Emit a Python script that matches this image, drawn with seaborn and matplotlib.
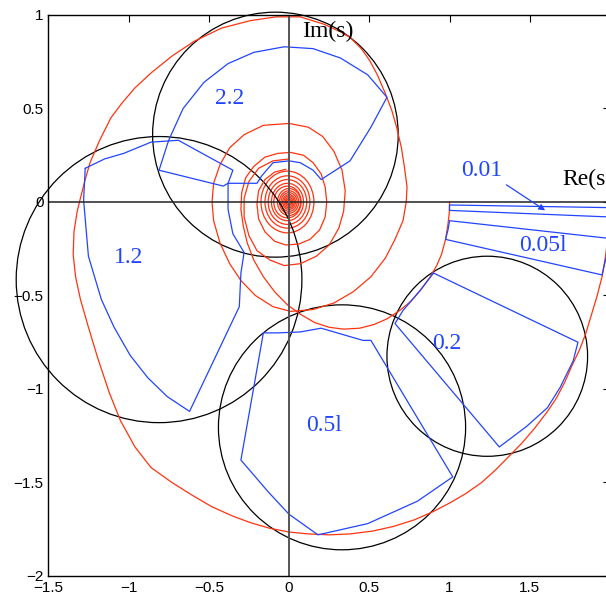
import numpy as np
import pandas as pd
import seaborn as sns
import matplotlib.pyplot as plt
from matplotlib.patches import Ellipse

RED = '#ff3311'
BLUE = '#2244ff'

# red locus, outer spiral (starts at Re=2)
red_outer = [
    (2.00, 0.00), (1.995, -0.10), (1.985, -0.20), (1.97, -0.30), (1.95, -0.40),
    (1.92, -0.50), (1.885, -0.60), (1.85, -0.70), (1.81, -0.79), (1.76, -0.88),
    (1.72, -0.96), (1.665, -1.05), (1.61, -1.12), (1.53, -1.21), (1.45, -1.29),
    (1.37, -1.36), (1.29, -1.43), (1.20, -1.50), (1.10, -1.56), (1.00, -1.61),
    (0.90, -1.655), (0.78, -1.70), (0.65, -1.735), (0.52, -1.76), (0.38, -1.775),
    (0.25, -1.78), (0.12, -1.775), (0.00, -1.765), (-0.12, -1.745), (-0.24, -1.715),
    (-0.35, -1.68), (-0.48, -1.63), (-0.60, -1.57), (-0.73, -1.50), (-0.86, -1.42),
    (-0.96, -1.31), (-1.05, -1.17), (-1.12, -1.02), (-1.19, -0.84), (-1.25, -0.67),
    (-1.30, -0.52), (-1.33, -0.40), (-1.345, -0.28), (-1.34, -0.16), (-1.32, -0.05),
    (-1.30, 0.02), (-1.27, 0.12), (-1.24, 0.21), (-1.18, 0.33), (-1.11, 0.45),
    (-1.04, 0.53), (-0.96, 0.61), (-0.86, 0.69), (-0.73, 0.78), (-0.59, 0.86),
    (-0.42, 0.93), (-0.24, 0.97), (-0.08, 0.99), (0.07, 0.99), (0.22, 0.95),
    (0.32, 0.91), (0.38, 0.88), (0.45, 0.82), (0.50, 0.76), (0.55, 0.68),
    (0.60, 0.58), (0.64, 0.49), (0.67, 0.40), (0.70, 0.29), (0.72, 0.18),
    (0.735, 0.08), (0.73, 0.00), (0.71, -0.10), (0.66, -0.20), (0.60, -0.30),
    (0.51, -0.40), (0.40, -0.48), (0.28, -0.54), (0.15, -0.575), (0.01, -0.585),
    (-0.10, -0.56), (-0.21, -0.50), (-0.30, -0.42), (-0.37, -0.33), (-0.43, -0.22),
    (-0.47, -0.10), (-0.48, 0.00), (-0.47, 0.10), (-0.43, 0.20), (-0.37, 0.29),
    (-0.28, 0.36), (-0.16, 0.41), (0.00, 0.42), (0.12, 0.40), (0.21, 0.35),
    (0.28, 0.27), (0.33, 0.17), (0.35, 0.06), (0.34, -0.05), (0.31, -0.14),
    (0.25, -0.23), (0.17, -0.29), (0.07, -0.33), (-0.03, -0.34), (-0.12, -0.31),
    (-0.20, -0.26), (-0.25, -0.18), (-0.28, -0.08), (-0.28, 0.02), (-0.25, 0.11),
    (-0.19, 0.18), (-0.10, 0.22), (0.00, 0.23),
]

# red locus, inner spiral (starts at Re=1)
red_inner = [
    (1.00, 0.00), (0.998, -0.06), (0.99, -0.12), (0.975, -0.20), (0.95, -0.28),
    (0.92, -0.34), (0.88, -0.40), (0.82, -0.47), (0.76, -0.53), (0.69, -0.58),
    (0.61, -0.625), (0.53, -0.655), (0.44, -0.675), (0.34, -0.68), (0.25, -0.67),
    (0.16, -0.645), (0.07, -0.60), (-0.01, -0.55), (-0.09, -0.48), (-0.16, -0.40),
    (-0.22, -0.31), (-0.26, -0.22), (-0.285, -0.13), (-0.30, -0.04), (-0.295, 0.05),
    (-0.27, 0.13), (-0.22, 0.19), (-0.15, 0.24), (-0.07, 0.26), (0.01, 0.265),
    (0.09, 0.25), (0.15, 0.21), (0.20, 0.15), (0.225, 0.08), (0.235, 0.00),
    (0.225, -0.08), (0.19, -0.15), (0.13, -0.20), (0.06, -0.225), (-0.02, -0.23),
    (-0.09, -0.21), (-0.15, -0.16), (-0.19, -0.09), (-0.20, -0.01), (-0.19, 0.06),
    (-0.15, 0.12), (-0.09, 0.16), (-0.02, 0.175),
]

# tight rings near the origin: centre x, centre y, radius
red_rings = [
    (-0.01, 0.00, 0.165), (-0.01, 0.00, 0.14), (-0.01, 0.00, 0.12),
    (-0.01, 0.00, 0.10), (-0.01, 0.00, 0.085), (0.00, 0.00, 0.072),
    (0.00, 0.00, 0.06), (0.00, 0.00, 0.05), (0.00, 0.00, 0.04),
    (0.00, 0.00, 0.032), (0.00, 0.00, 0.024), (0.00, 0.00, 0.017),
    (0.00, 0.00, 0.01),
]

# black circles: centre x, centre y, x radius, y radius
circles = [
    (-0.085, 0.36, 0.765, 0.655),
    (-0.81, -0.415, 0.89, 0.765),
    (0.33, -1.205, 0.77, 0.655),
    (1.235, -0.825, 0.625, 0.535),
]

# blue regions
reg_22 = [
    (-0.81, 0.17), (-0.75, 0.33), (-0.66, 0.50), (-0.53, 0.64), (-0.38, 0.74),
    (-0.22, 0.80), (-0.03, 0.83), (0.15, 0.82), (0.32, 0.77), (0.49, 0.68),
    (0.61, 0.56), (0.51, 0.40), (0.38, 0.22), (0.20, 0.12), (0.15, 0.17),
    (0.07, 0.21), (0.00, 0.22), (-0.10, 0.21), (-0.17, 0.14), (-0.20, 0.10),
    (-0.38, 0.10), (-0.41, 0.085), (-0.81, 0.17),
]
reg_12 = [
    (-1.27, 0.18), (-1.15, 0.23), (-1.03, 0.26), (-0.86, 0.32), (-0.69, 0.33),
    (-0.35, 0.17), (-0.38, 0.10), (-0.38, -0.04), (-0.35, -0.17), (-0.28, -0.27),
    (-0.30, -0.38), (-0.31, -0.56), (-0.62, -1.12), (-0.76, -1.04), (-0.88, -0.94),
    (-0.99, -0.82), (-1.09, -0.67), (-1.17, -0.52), (-1.25, -0.29), (-1.28, 0.01),
    (-1.27, 0.18),
]
reg_051 = [
    (-0.16, -0.70), (-0.30, -1.38), (-0.13, -1.55), (0.00, -1.67), (0.18, -1.78),
    (0.49, -1.72), (0.80, -1.60), (1.02, -1.47), (0.51, -0.74), (0.46, -0.74),
    (0.20, -0.675), (0.07, -0.695), (-0.07, -0.70), (-0.16, -0.70),
]
reg_02 = [
    (0.90, -0.38), (1.80, -0.75), (1.77, -0.85), (1.69, -0.99), (1.61, -1.10),
    (1.48, -1.20), (1.31, -1.31), (0.66, -0.65), (0.71, -0.58), (0.82, -0.47),
    (0.90, -0.38),
]
reg_0051 = [
    (2.05, -0.20), (1.00, -0.10), (0.99, -0.15), (0.975, -0.20), (1.95, -0.39),
    (1.98, -0.28), (2.00, -0.18),
]
reg_001 = [
    (2.05, -0.031), (1.00, -0.016), (1.00, -0.045), (2.05, -0.082),
]

labels = [
    ('2.2', -0.37, 0.555), ('1.2', -1.00, -0.295), ('0.5l', 0.22, -1.195),
    ('0.2', 0.985, -0.755), ('0.05l', 1.58, -0.235), ('0.01', 1.20, 0.17),
]

x_ticks = [-1.5, -1, -0.5, 0, 0.5, 1, 1.5, 2]
x_tick_labels = ['\u22121.5', '\u22121', '\u22120.5', '0', '0.5', '1', '1.5', '2']
y_ticks = [-2, -1.5, -1, -0.5, 0, 0.5, 1]
y_tick_labels = ['\u22122', '\u22121.5', '\u22121', '\u22120.5', '0', '0.5', '1']

sns.set_theme(style='white')
plt.rcParams['font.family'] = ['Liberation Sans', 'DejaVu Sans']

fig = plt.figure(figsize=(6.06, 5.97), dpi=100)
ax = fig.add_axes([0.0797, 0.0352, 0.927, 0.9397])


def trace(pts, color, lw=0.9):
    df = pd.DataFrame(pts, columns=['re', 'im'])
    sns.lineplot(data=df, x='re', y='im', sort=False, estimator=None,
                 color=color, lw=lw, ax=ax)


trace(red_outer, RED)
trace(red_inner, RED)
for cx, cy, r in red_rings:
    ax.add_patch(Ellipse((cx, cy), 2 * r, 2 * r, fill=False, ec=RED, lw=0.9))

for reg in [reg_22, reg_12, reg_051, reg_02, reg_0051, reg_001]:
    trace(reg, BLUE)

for cx, cy, rx, ry in circles:
    ax.add_patch(Ellipse((cx, cy), 2 * rx, 2 * ry, fill=False, ec='black',
                         lw=0.9, clip_on=False))

ax.axhline(0, color='#222222', lw=1.1)
ax.axvline(0, color='#555555', lw=1.4)

for txt, x, y in labels:
    ax.text(x, y, txt, color=BLUE, fontsize=17, family='Liberation Serif',
            ha='center', va='center')
ax.annotate('', xy=(1.61, -0.053), xytext=(1.34, 0.10),
            arrowprops=dict(arrowstyle='-|>', color=BLUE, lw=0.9,
                            mutation_scale=9))
ax.text(0.08, 0.91, 'Im(s)', fontsize=17, family='Liberation Serif',
        ha='left', va='center', color='black')
ax.text(1.70, 0.12, 'Re(s)', fontsize=17, family='Liberation Serif',
        ha='left', va='center', color='black')

ax.set_xlim(-1.5, 2)
ax.set_ylim(-2, 1)
ax.set_xticks(x_ticks)
ax.set_xticklabels(x_tick_labels)
ax.set_yticks(y_ticks)
ax.set_yticklabels(y_tick_labels)
ax.set_xlabel('')
ax.set_ylabel('')
ax.tick_params(direction='in', length=5, width=0.8, top=True, right=True,
               labelsize=11, colors='black')
for s in ax.spines.values():
    s.set_color('black')
    s.set_linewidth(1.0)

fig.savefig('out.png', dpi=100)
